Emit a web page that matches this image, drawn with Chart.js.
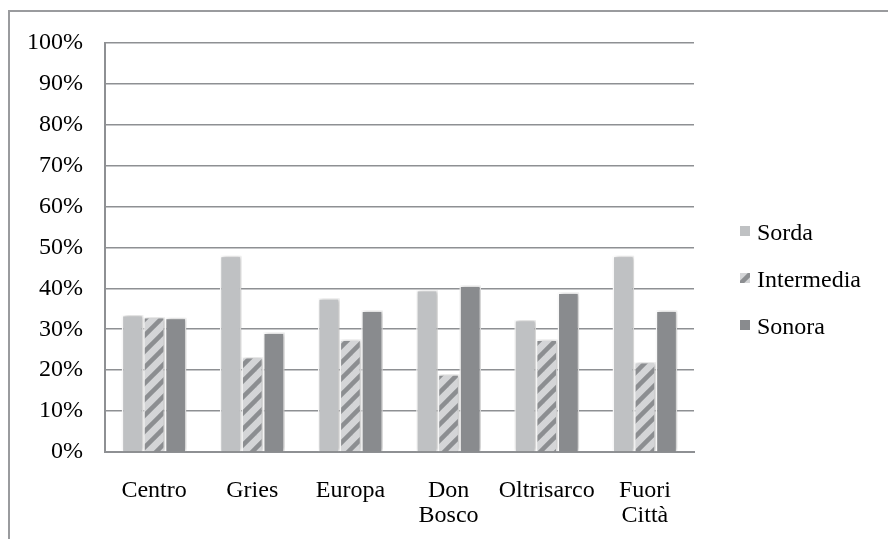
<!DOCTYPE html>
<html>
<head>
<meta charset="utf-8">
<script src="https://cdn.jsdelivr.net/npm/chart.js@4.4.1/dist/chart.umd.min.js"></script>
<style>
    html, body { margin: 0; padding: 0; background: #fff; overflow: hidden; }
    #frame {
        position: absolute; left: 8px; top: 10px; width: 1000px; height: 700px;
        border-left: 2px solid #9a9b9e; border-top: 2px solid #9a9b9e;
    }
    #chart { position: absolute; left: 0; top: 0; }
</style>
</head>
<body>
<div id="frame"></div>
<canvas id="chart" width="888" height="539"></canvas>
<script>
// Quartieri e percentuali per tipo
const categories = ['Centro', 'Gries', 'Europa', ['Don', 'Bosco'], 'Oltrisarco', ['Fuori', 'Città']];
const seriesNames = ['Sorda', 'Intermedia', 'Sonora'];
const sorda = [33.5, 48, 37.6, 39.6, 32.3, 48];
const intermedia = [33, 23.2, 27.5, 19, 27.5, 22];
const sonora = [32.8, 29.2, 34.6, 40.7, 39, 34.6];
const yTicks = [0, 10, 20, 30, 40, 50, 60, 70, 80, 90, 100];

const FONT = '"Liberation Serif", "Times New Roman", serif';
const GRID = '#8e9093';

// diagonal hatch for the middle series
function makeHatch() {
    const c = document.createElement('canvas');
    c.width = 16; c.height = 16;
    const g = c.getContext('2d');
    g.fillStyle = '#d4d5d7';
    g.fillRect(0, 0, 16, 16);
    g.strokeStyle = '#8c8e91';
    g.lineWidth = 4.5;
    [[-8, 8, 8, -8], [0, 16, 16, 0], [8, 24, 24, 8]].forEach(function (l) {
        g.beginPath(); g.moveTo(l[0], l[1]); g.lineTo(l[2], l[3]); g.stroke();
    });
    return g.createPattern(c, 'repeat');
}

const ctx = document.getElementById('chart').getContext('2d');
const hatch = makeHatch();
const fills = ['#bfc1c3', hatch, '#898b8e'];

// soft shadow behind the bars
const barShadow = {
    id: 'barShadow',
    beforeDatasetsDraw(chart) {
        const c = chart.ctx;
        c.save();
        c.shadowColor = 'rgba(0,0,0,0.28)';
        c.shadowBlur = 4;
        c.shadowOffsetX = 1.5;
        c.shadowOffsetY = 0;
    },
    afterDatasetsDraw(chart) {
        chart.ctx.restore();
    }
};

// legend on the right, one entry per series
const sideLegend = {
    id: 'sideLegend',
    afterDraw(chart) {
        const c = chart.ctx;
        c.save();
        c.font = '24px ' + FONT;
        c.textBaseline = 'middle';
        c.textAlign = 'left';
        chart.data.datasets.forEach(function (ds, i) {
            const cy = 234 + i * 47;
            c.fillStyle = ds.backgroundColor;
            c.fillRect(740, cy - 8, 10, 10);
            c.fillStyle = '#000';
            c.fillText(ds.label, 757, cy);
        });
        c.restore();
    }
};

new Chart(ctx, {
    type: 'bar',
    data: {
        labels: categories,
        datasets: [sorda, intermedia, sonora].map(function (vals, i) {
            return {
                label: seriesNames[i],
                data: vals,
                backgroundColor: fills[i],
                borderColor: '#ffffff',
                borderWidth: 1.5,
                categoryPercentage: 0.66,
                barPercentage: 1.0
            };
        })
    },
    options: {
        responsive: false,
        animation: false,
        layout: { padding: { left: 0, top: 43, right: 194, bottom: 0 } },
        plugins: {
            legend: { display: false },
            tooltip: { enabled: false }
        },
        scales: {
            x: {
                grid: { display: false },
                border: { display: true, color: GRID, width: 2 },
                ticks: {
                    color: '#000',
                    font: { family: FONT, size: 24, lineHeight: 1.05 },
                    padding: 18,
                    maxRotation: 0,
                    autoSkip: false
                },
                afterFit(scale) { scale.height = 87; }
            },
            y: {
                min: 0,
                max: 100,
                afterBuildTicks(scale) {
                    scale.ticks = yTicks.map(function (v) { return { value: v }; });
                },
                grid: { color: GRID, lineWidth: 1.6, drawTicks: false },
                border: { display: true, color: GRID, width: 2 },
                ticks: {
                    color: '#000',
                    font: { family: FONT, size: 24 },
                    padding: 22,
                    callback: function (v) { return v + '%'; }
                },
                afterFit(scale) { scale.width = 105; }
            }
        }
    },
    plugins: [barShadow, sideLegend]
});
</script>
</body>
</html>
